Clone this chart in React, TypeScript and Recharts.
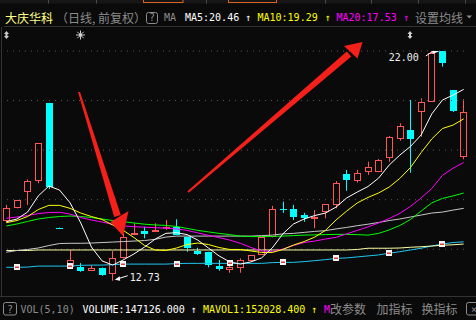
import React from 'react';
import { ComposedChart, Bar, Line, Scatter, XAxis, YAxis, ReferenceLine, ReferenceDot } from 'recharts';

// daily candles
const opens = [15.14, 15.65, 16.30, 16.77, 19.91, 14.87, 13.30, 13.30, 13.13, 13.26, 13.00, 13.66, 14.57, 14.75, 14.71, 14.84, 14.91, 14.48, 13.94, 13.90, 13.32, 13.16, 13.23, 13.54, 13.77, 14.48, 15.62, 15.61, 15.38, 15.21, 15.52, 15.79, 17.04, 16.77, 17.13, 17.13, 17.69, 18.46, 18.81, 19.53, 19.95, 22.00, 20.43, 17.71];
const highs = [15.79, 15.99, 16.82, 18.28, 19.91, 14.87, 13.97, 13.44, 13.36, 13.26, 13.93, 14.64, 15.05, 14.91, 15.05, 15.18, 15.21, 14.48, 14.06, 13.90, 13.57, 13.48, 13.63, 13.77, 14.48, 15.75, 15.92, 15.79, 15.47, 15.58, 15.81, 16.75, 17.20, 17.20, 17.53, 17.64, 18.57, 19.08, 20.02, 20.09, 22.00, 22.00, 20.43, 20.05];
const lows = [15.11, 15.65, 15.79, 16.66, 16.43, 14.86, 13.30, 13.09, 13.13, 12.93, 12.73, 13.62, 14.57, 14.44, 14.71, 14.78, 14.57, 13.90, 13.77, 13.27, 13.13, 13.05, 13.05, 13.54, 13.77, 14.48, 15.47, 15.18, 15.11, 14.85, 15.25, 15.65, 16.36, 16.69, 17.00, 17.13, 17.53, 18.38, 17.09, 18.54, 19.95, 21.37, 19.54, 17.63];
const closes = [15.65, 15.99, 16.75, 18.28, 16.52, 14.86, 13.57, 13.13, 13.23, 12.96, 13.66, 14.48, 14.67, 14.60, 14.78, 14.91, 14.57, 14.04, 13.81, 13.36, 13.19, 13.27, 13.57, 13.77, 14.48, 15.61, 15.61, 15.31, 15.25, 15.31, 15.81, 16.66, 16.79, 17.06, 17.31, 17.60, 18.52, 18.97, 18.44, 19.93, 21.92, 21.53, 19.59, 19.53];

// moving average lines
const ma5 = [15.11, 15.22, 15.50, 16.15, 16.55, 16.39, 15.87, 15.06, 14.09, 13.53, 13.36, 13.57, 13.81, 14.09, 14.41, 14.64, 14.67, 14.59, 14.37, 14.05, 13.73, 13.49, 13.40, 13.49, 13.65, 14.05, 14.62, 15.02, 15.22, 15.36, 15.46, 15.70, 16.07, 16.31, 16.53, 16.87, 17.40, 17.80, 18.15, 18.61, 19.46, 20.02, 20.22, 20.45];
const ma10 = [15.07, 15.16, 15.32, 15.60, 15.77, 15.77, 15.65, 15.46, 15.32, 15.20, 14.98, 14.76, 14.47, 14.15, 13.97, 13.95, 14.05, 14.19, 14.25, 14.19, 14.07, 13.99, 13.99, 13.93, 13.87, 13.87, 13.99, 14.17, 14.31, 14.49, 14.76, 15.18, 15.54, 15.87, 16.09, 16.27, 16.51, 16.86, 17.30, 17.90, 18.45, 18.87, 19.01, 19.26];
const ma20 = [15.25, 15.30, 15.36, 15.44, 15.48, 15.49, 15.42, 15.28, 15.18, 15.10, 15.00, 14.94, 14.91, 14.89, 14.87, 14.85, 14.82, 14.76, 14.66, 14.56, 14.47, 14.37, 14.24, 14.07, 13.93, 13.91, 14.01, 14.15, 14.27, 14.33, 14.41, 14.48, 14.62, 14.76, 14.90, 15.06, 15.24, 15.45, 15.73, 16.07, 16.45, 16.98, 17.27, 17.50];
const ma30 = [14.94, 15.02, 15.12, 15.22, 15.28, 15.32, 15.34, 15.32, 15.28, 15.22, 15.16, 15.11, 15.06, 15.01, 14.98, 14.96, 14.92, 14.84, 14.76, 14.70, 14.64, 14.59, 14.53, 14.51, 14.51, 14.52, 14.53, 14.55, 14.57, 14.58, 14.59, 14.60, 14.60, 14.59, 14.57, 14.64, 14.78, 14.96, 15.20, 15.54, 15.87, 16.05, 16.15, 16.27];
const ma60 = [13.88, 13.95, 13.99, 14.05, 14.15, 14.23, 14.24, 14.24, 14.25, 14.27, 14.29, 14.31, 14.33, 14.35, 14.40, 14.49, 14.53, 14.53, 14.53, 14.53, 14.53, 14.53, 14.53, 14.53, 14.55, 14.57, 14.62, 14.64, 14.68, 14.72, 14.75, 14.82, 14.88, 14.95, 15.01, 15.08, 15.16, 15.22, 15.30, 15.38, 15.46, 15.50, 15.58, 15.65];
const ma120 = [13.95, 13.95, 13.95, 13.97, 13.97, 13.97, 13.97, 13.97, 13.97, 13.97, 13.97, 13.97, 13.97, 13.97, 13.97, 13.97, 13.97, 13.97, 13.97, 13.97, 13.97, 13.97, 13.97, 13.97, 13.97, 13.97, 13.97, 13.97, 13.97, 13.97, 13.97, 13.97, 13.97, 13.99, 14.04, 14.04, 14.04, 14.05, 14.08, 14.10, 14.13, 14.16, 14.18, 14.21];
const ma250 = [13.27, 13.27, 13.28, 13.32, 13.32, 13.32, 13.32, 13.35, 13.36, 13.36, 13.38, 13.40, 13.40, 13.40, 13.40, 13.40, 13.42, 13.43, 13.43, 13.43, 13.43, 13.43, 13.43, 13.43, 13.43, 13.46, 13.47, 13.47, 13.50, 13.54, 13.58, 13.63, 13.65, 13.69, 13.73, 13.77, 13.84, 13.90, 13.97, 14.04, 14.13, 14.21, 14.27, 14.30];

// small info markers sitting on the long MA
const marks = [null, 13.27, null, null, null, null, 13.32, null, null, null, null, 13.40, null, null, null, null, 13.42, null, null, null, null, 13.43, null, null, null, null, 13.47, null, null, null, null, 13.63, null, null, null, null, 13.84, null, null, null, null, 14.21, null, null];

const gridPrices = [14, 16, 18, 20, 22];
const highMark = { idx: 40, price: 22.0, label: '22.00' };
const lowMark = { idx: 10, price: 12.73, label: '12.73' };

const data = closes.map((c, i) => ({
  i,
  open: opens[i],
  high: highs[i],
  low: lows[i],
  close: c,
  range: [lows[i], highs[i]],
  ma5: ma5[i],
  ma10: ma10[i],
  ma20: ma20[i],
  ma30: ma30[i],
  ma60: ma60[i],
  ma120: ma120[i],
  ma250: ma250[i],
  mark: marks[i],
}));

const BG = '#0a0a0a';
const RED = '#ff5656';
const CYAN = '#00ffff';
const GRAY = '#8c8c8c';
const MONO = "'DejaVu Sans Mono', monospace";
const CJK = "'Noto Sans CJK SC', sans-serif";

function Candle(props: any) {
  const { x, y, width, height, payload } = props;
  if (!payload || y == null || isNaN(y)) return null;
  const { open, close, high, low } = payload;
  const span = high - low || 1;
  const toY = (v: number) => y + ((high - v) / span) * height;
  const up = close > open;
  const color = up ? RED : CYAN;
  const c = Math.floor(x + width / 2);
  let top = Math.round(toY(Math.max(open, close)));
  let bot = Math.round(toY(Math.min(open, close)));
  if (bot - top < 1) bot = top + 1;
  const hy = toY(high);
  const ly = toY(low);
  return (
    <g>
      <line x1={c + 0.5} x2={c + 0.5} y1={hy} y2={top} stroke={color} />
      <line x1={c + 0.5} x2={c + 0.5} y1={bot} y2={ly} stroke={color} />
      {up ? (
        <rect x={c - 2.5} y={top + 0.5} width={6} height={Math.max(bot - top - 1, 0.5)} fill={BG} stroke={color} />
      ) : (
        <rect x={c - 3} y={top} width={7} height={bot - top} fill={color} />
      )}
    </g>
  );
}

function Marker(props: any) {
  const { cx, cy, payload } = props;
  if (!payload || payload.mark == null || cy == null || isNaN(cy)) return null;
  const l = Math.round(cx) - 3;
  const t = Math.round(cy) - 3;
  return (
    <g>
      <rect x={l} y={t} width={6} height={6} fill="#f4f4f4" />
      <rect x={l + 1} y={t + 2.5} width={4} height={1.5} fill="#e03a3a" />
    </g>
  );
}

function HighLabel(props: any) {
  const { cx, cy } = props;
  return (
    <g>
      <line x1={cx - 6} y1={cy + 5} x2={cx} y2={cy + 1} stroke="#fff" />
      <polygon points={`${cx},${cy} ${cx + 8},${cy} ${cx + 1},${cy + 3}`} fill="#fff" />
      <text x={cx - 13} y={cy + 10} textAnchor="end" fill="#f0f0f0" fontFamily={MONO} fontSize={10}>{highMark.label}</text>
    </g>
  );
}

function LowLabel(props: any) {
  const { cx, cy } = props;
  return (
    <g>
      <line x1={cx + 4} y1={cy - 1.5} x2={cx + 15} y2={cy - 5} stroke="#fff" />
      <polygon points={`${cx + 2},${cy - 1} ${cx + 7},${cy - 4.5} ${cx + 7.5},${cy}`} fill="#fff" />
      <text x={cx + 17} y={cy} fill="#f0f0f0" fontFamily={MONO} fontSize={10}>{lowMark.label}</text>
    </g>
  );
}

function Overlay() {
  const sunRays = [0, 45, 90, 135, 180, 225, 270, 315].map((a) => {
    const r = (a * Math.PI) / 180;
    return <line key={a} x1={80.5 + Math.cos(r) * 2} y1={35 + Math.sin(r) * 2} x2={80.5 + Math.cos(r) * 4.5} y2={35 + Math.sin(r) * 4.5} stroke="#d0d0d0" />;
  });
  const dbl = (x: number) => (
    <g>
      <polygon points={`${x},31 ${x - 2.5},34 ${x + 2.5},34`} fill="#d0d0d0" />
      <rect x={x - 1} y={33.5} width={2} height={3} fill="#d0d0d0" />
      <polygon points={`${x},39 ${x - 2.5},36 ${x + 2.5},36`} fill="#d0d0d0" />
    </g>
  );
  return (
    <svg width={476} height={320} style={{ position: 'absolute', left: 0, top: 0, pointerEvents: 'none' }}>
      {/* top tab strip */}
      <rect x={0} y={0} width={476} height={3.5} fill="#161616" />
      {[48.5, 96.5, 206.5, 325.5, 371.5, 418.5, 465.5].map((x) => (
        <line key={x} x1={x} x2={x} y1={0} y2={3.5} stroke="#4a4a4a" />
      ))}
      <rect x={143.5} y={-2} width={39.5} height={4.5} fill="none" stroke="#d9641e" />
      <rect x={228.5} y={-2} width={48} height={4.5} fill="none" stroke="#d9641e" />

      {/* header */}
      <text x={5} y={22.5} fill="#ffff88" fontFamily={CJK} fontSize={12}>大庆华科</text>
      <text x={56} y={22.5} fill={GRAY} fontFamily={CJK} fontSize={12}>（日线, 前复权）</text>
      <rect x={146.5} y={12.5} width={11} height={11} rx={2} fill="none" stroke={GRAY} />
      <text x={152} y={21} textAnchor="middle" fill={GRAY} fontFamily={MONO} fontSize={10}>?</text>
      <text x={164} y={21} fill={GRAY} fontFamily={MONO} fontSize={10}>MA</text>
      <text x={185} y={21} fill="#ffffff" fontFamily={MONO} fontSize={10}>MA5:20.46</text>
      <text x={245} y={21} fill="#ffffff" fontFamily={MONO} fontSize={10}>↑</text>
      <text x={257.5} y={21} fill="#ffff00" fontFamily={MONO} fontSize={10}>MA10:19.29</text>
      <text x={324.5} y={21} fill="#ffff00" fontFamily={MONO} fontSize={10}>↑</text>
      <text x={336.5} y={21} fill="#ff00ff" fontFamily={MONO} fontSize={10}>MA20:17.53</text>
      <text x={403} y={21} fill="#ff00ff" fontFamily={MONO} fontSize={10}>↑</text>
      <text x={415} y={22.5} fill={GRAY} fontFamily={CJK} fontSize={12}>设置均线</text>
      <polygon points="466.5,15.5 472,15.5 469.25,18.5" fill={GRAY} />
      <line x1={4} x2={476} y1={26.5} y2={26.5} stroke="#333" />
      <line x1={1.5} x2={1.5} y1={27} y2={297} stroke="#333" />

      {/* small tool icons */}
      {dbl(6.5)}
      <circle cx={80.5} cy={35} r={2} fill="#d0d0d0" />
      {sunRays}
      {dbl(410)}

      {/* red hand-drawn arrows */}
      <polygon points="78,92 80,92 120.8,215 114.2,217" fill="#f5201a" />
      <polygon points="110.5,222 128.5,211 123,236" fill="#f5201a" />
      <polygon points="187.4,191.2 188.7,192.8 351.3,56.6 346.7,51.4" fill="#f5201a" />
      <polygon points="344,46 357.5,58.5 362.5,42" fill="#f5201a" />

      {/* footer */}
      <line x1={0} x2={476} y1={296.5} y2={296.5} stroke="#333" />
      <rect x={3.5} y={302.5} width={13} height={12.5} rx={2} fill="none" stroke={GRAY} />
      <text x={10} y={312.5} textAnchor="middle" fill={GRAY} fontFamily={MONO} fontSize={10}>?</text>
      <text x={20.5} y={313} fill={GRAY} fontFamily={MONO} fontSize={10}>VOL(5,10)</text>
      <text x={82.5} y={313} fill="#ffffff" fontFamily={MONO} fontSize={10}>VOLUME:147126.000</text>
      <text x={190.5} y={313} fill="#ffffff" fontFamily={MONO} fontSize={10}>↑</text>
      <text x={203} y={313} fill="#ffff00" fontFamily={MONO} fontSize={10}>MAVOL1:152028.400</text>
      <text x={311} y={313} fill="#ffff00" fontFamily={MONO} fontSize={10}>↑</text>
      <text x={324} y={313} fill="#ff00ff" fontFamily={MONO} fontSize={10}>M</text>
      <text x={330} y={313.5} fill={GRAY} fontFamily={CJK} fontSize={12}>改参数</text>
      <text x={376.5} y={313.5} fill={GRAY} fontFamily={CJK} fontSize={12}>加指标</text>
      <text x={421.5} y={313.5} fill={GRAY} fontFamily={CJK} fontSize={12}>换指标</text>
      <rect x={466.5} y={302.5} width={12} height={12.5} rx={2} fill="none" stroke={GRAY} />
      <text x={471} y={312.5} fill={GRAY} fontFamily={MONO} fontSize={10}>×</text>
    </svg>
  );
}

export default function App() {
  return (
    <div style={{ position: 'fixed', left: 0, top: 0, width: 476, height: 320, background: BG, overflow: 'hidden' }}>
      <ComposedChart width={476} height={320} data={data} margin={{ top: 30, right: 7, bottom: 30, left: 1 }}>
        <XAxis dataKey="i" type="category" hide />
        <YAxis type="number" domain={[12.355, 22.847]} allowDataOverflow hide />
        {gridPrices.map((p) => (
          <ReferenceLine key={p} y={p} stroke="#5a5a5a" strokeDasharray="1 5" />
        ))}
        <Bar dataKey="range" barSize={7} shape={(p: any) => <Candle {...p} />} isAnimationActive={false} />
        <Line dataKey="ma250" stroke="#1ec8f0" dot={false} strokeWidth={1} isAnimationActive={false} />
        <Line dataKey="ma120" stroke="#ffffa8" dot={false} strokeWidth={1} isAnimationActive={false} />
        <Line dataKey="ma60" stroke="#c8c8c8" dot={false} strokeWidth={1} isAnimationActive={false} />
        <Line dataKey="ma30" stroke="#00ff00" dot={false} strokeWidth={1} isAnimationActive={false} />
        <Line dataKey="ma20" stroke="#ff00ff" dot={false} strokeWidth={1} isAnimationActive={false} />
        <Line dataKey="ma10" stroke="#ffff00" dot={false} strokeWidth={1} isAnimationActive={false} />
        <Line dataKey="ma5" stroke="#ffffff" dot={false} strokeWidth={1} isAnimationActive={false} />
        <Scatter dataKey="mark" shape={(p: any) => <Marker {...p} />} isAnimationActive={false} />
        <ReferenceDot x={highMark.idx} y={highMark.price} r={0} shape={(p: any) => <HighLabel {...p} />} />
        <ReferenceDot x={lowMark.idx} y={lowMark.price} r={0} shape={(p: any) => <LowLabel {...p} />} />
      </ComposedChart>
      <Overlay />
    </div>
  );
}
